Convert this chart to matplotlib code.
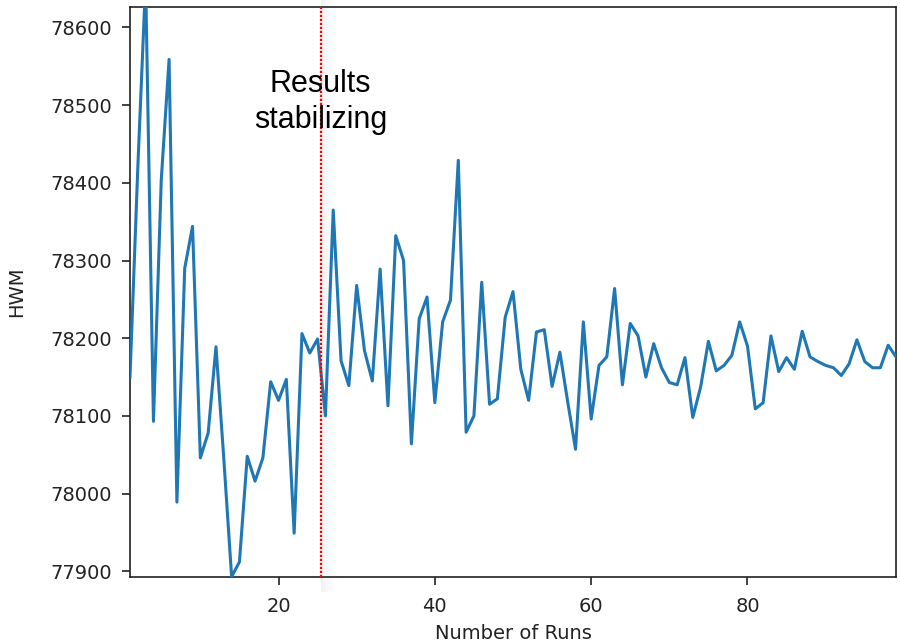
import matplotlib
matplotlib.use("Agg")
import matplotlib.pyplot as plt
from matplotlib.patches import Rectangle
import matplotlib.transforms as mtransforms

runs = list(range(1, 100))
hwm = [78150, 78420, 78660, 78093, 78404, 78559, 77989, 78290, 78344, 78046,
       78078, 78189, 78045, 77893, 77912, 78048, 78016, 78046, 78144, 78120,
       78147, 77949, 78206, 78181, 78199, 78100, 78365, 78171, 78139, 78268,
       78184, 78145, 78289, 78113, 78332, 78300, 78064, 78225, 78253, 78117,
       78221, 78249, 78429, 78079, 78100, 78272, 78115, 78122, 78227, 78260,
       78160, 78120, 78208, 78211, 78138, 78182, 78118, 78057, 78221, 78096,
       78165, 78176, 78264, 78140, 78219, 78203, 78150, 78193, 78162, 78143,
       78140, 78175, 78098, 78137, 78196, 78158, 78165, 78178, 78221, 78190,
       78109, 78117, 78203, 78157, 78175, 78160, 78209, 78176, 78170, 78165,
       78162, 78152, 78167, 78198, 78170, 78162, 78162, 78191, 78176]
xticks = [20, 40, 60, 80]
yticks = [77900, 78000, 78100, 78200, 78300, 78400, 78500, 78600]
stable_x = 25.4
note_lines = ["Results", "stabilizing"]

fig = plt.figure(figsize=(9, 6.42), dpi=100)
ax = fig.add_axes([130/900, 1 - 576.7/642, 766/900, 569.4/642])

ax.plot(runs, hwm, color="#1f77b4", lw=2.2, zorder=3)
ax.set_xlim(1, 99)
ax.set_ylim(77893, 78626)
ax.set_xticks(xticks)
ax.set_yticks(yticks)
ax.tick_params(axis="both", labelsize=14, length=5.8, width=1.2,
               color="#222222", labelcolor="#222222")
ax.tick_params(axis="x", pad=8.5)
ax.tick_params(axis="y", pad=7)
for s in ax.spines.values():
    s.set_linewidth(1.2)
    s.set_color("#222222")

ax.set_xlabel("Number of Runs", fontsize=14, labelpad=6, color="#222222")
ax.set_ylabel("HWM", fontsize=14, color="#222222")
ax.yaxis.set_label_coords(-0.136, 0.5)

# faint shadow right of the marker line
trans = mtransforms.blended_transform_factory(ax.transData, ax.transAxes)
alphas = [0.10, 0.085, 0.07, 0.055, 0.04, 0.028, 0.018, 0.01]
w = 0.22
for i, a in enumerate(alphas):
    ax.add_patch(Rectangle((stable_x + 0.05 + i * w, -0.027), w, 1.04,
                           transform=trans, facecolor="#808080", alpha=a,
                           edgecolor="none", clip_on=False, zorder=0.5))

ax.axvline(stable_x, color="red", lw=1.6, linestyle=(0, (1, 0.8)), zorder=4)

ax.text(stable_x, 0.8518, note_lines[0], transform=trans, ha="center",
        va="baseline", fontsize=22, family="Liberation Sans", color="black", zorder=5)
ax.text(stable_x, 0.7885, note_lines[1], transform=trans, ha="center",
        va="baseline", fontsize=22, family="Liberation Sans", color="black", zorder=5)

fig.savefig("out.png", dpi=100, facecolor="white")
